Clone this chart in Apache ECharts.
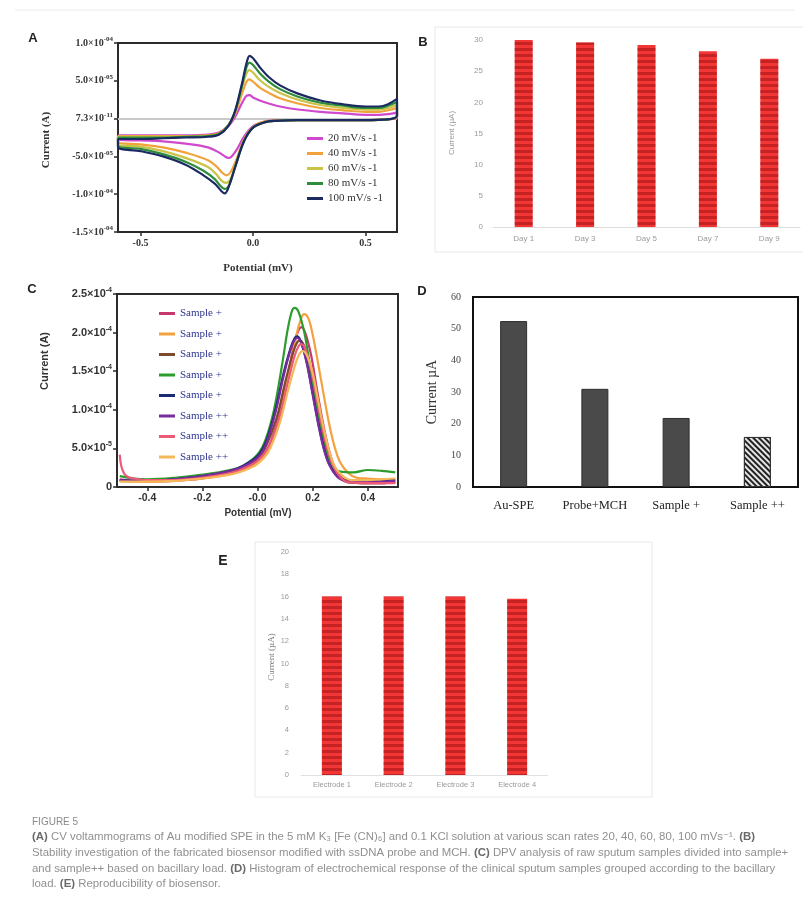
<!DOCTYPE html>
<html>
<head>
<meta charset="utf-8">
<script src="https://cdn.jsdelivr.net/npm/echarts@6/dist/echarts.min.js"></script>
<style>
  html, body { margin: 0; padding: 0; background: #ffffff; }
  #fig { width: 803px; height: 908px; }
</style>
</head>
<body>
<div id="fig"></div>
<script>
// ---------- Panel A: cyclic voltammograms (current in µA, potential in V) ----------
const cvPotentialTicks = [-0.5, 0, 0.5];
const cvPotentialLabels = ['-0.5', '0.0', '0.5'];
const cvCurrentTicks = [-150, -100, -50, 0, 50, 100];
const cvCurrentLabels = ['-1.5×10^-04', '-1.0×10^-04', '-5.0×10^-05', '7.3×10^-11', '5.0×10^-05', '1.0×10^-04'];
const cvRates = ['20 mV/s -1', '40 mV/s -1', '60 mV/s -1', '80 mV/s -1', '100 mV/s -1'];

const cv20 = [[-0.6,-22],[-0.5,-22],[-0.4,-22],[-0.3,-22],[-0.2,-21],[-0.15,-18],[-0.11,-10],[-0.08,2],[-0.05,20],[-0.03,30],[-0.015,31],[0.0,28],[0.03,24],[0.07,20],[0.12,16],[0.2,12],[0.3,9],[0.4,7],[0.5,5],[0.56,5],[0.6,6],[0.64,8],
  [0.64,1],[0.6,-1],[0.5,-2],[0.4,-2],[0.3,-2],[0.2,-2],[0.1,-2],[0.05,-4],[0.0,-10],[-0.04,-24],[-0.07,-40],[-0.095,-50],[-0.11,-52],[-0.125,-50],[-0.15,-45],[-0.2,-38],[-0.3,-33],[-0.4,-30],[-0.5,-29],[-0.6,-28],[-0.6,-22]];
const cv40 = [[-0.6,-23],[-0.5,-23],[-0.4,-23],[-0.3,-23],[-0.2,-22],[-0.15,-19],[-0.11,-9],[-0.08,6],[-0.05,32],[-0.03,48],[-0.017,52],[0.0,49],[0.03,41],[0.07,34],[0.12,27],[0.2,20],[0.3,14],[0.4,11],[0.5,9],[0.56,9],[0.6,11],[0.64,14],
  [0.64,2],[0.6,-1],[0.5,-2],[0.4,-2],[0.3,-2],[0.2,-2],[0.1,-3],[0.05,-4],[0.0,-11],[-0.04,-28],[-0.075,-55],[-0.1,-71],[-0.117,-75],[-0.135,-72],[-0.16,-64],[-0.2,-55],[-0.3,-45],[-0.4,-38],[-0.5,-34],[-0.6,-31],[-0.6,-23]];
const cv60 = [[-0.6,-24],[-0.5,-24],[-0.4,-24],[-0.3,-24],[-0.2,-23],[-0.15,-20],[-0.11,-9],[-0.08,8],[-0.05,40],[-0.03,59],[-0.017,64],[0.0,61],[0.03,51],[0.07,42],[0.12,34],[0.2,25],[0.3,18],[0.4,14],[0.5,12],[0.56,12],[0.6,14],[0.64,18],
  [0.64,3],[0.6,-1],[0.5,-2],[0.4,-2],[0.3,-2],[0.2,-2],[0.1,-3],[0.05,-5],[0.0,-12],[-0.04,-29],[-0.075,-60],[-0.1,-80],[-0.12,-85],[-0.14,-82],[-0.165,-73],[-0.2,-64],[-0.3,-52],[-0.4,-43],[-0.5,-37],[-0.6,-34],[-0.6,-24]];
const cv80 = [[-0.6,-25],[-0.5,-25],[-0.4,-25],[-0.3,-24],[-0.2,-23],[-0.15,-20],[-0.11,-9],[-0.08,9],[-0.05,42],[-0.03,67],[-0.016,74],[0.0,71],[0.03,60],[0.07,49],[0.12,39],[0.2,29],[0.3,21],[0.4,17],[0.5,14],[0.56,14],[0.6,17],[0.64,22],
  [0.64,3],[0.6,-1],[0.5,-2],[0.4,-2],[0.3,-2],[0.2,-2],[0.1,-3],[0.05,-5],[0.0,-12],[-0.04,-30],[-0.08,-64],[-0.105,-87],[-0.125,-93],[-0.145,-89],[-0.17,-80],[-0.22,-69],[-0.3,-57],[-0.4,-47],[-0.5,-40],[-0.6,-36],[-0.6,-25]];
const cv100 = [[-0.6,-27],[-0.5,-27],[-0.4,-26],[-0.3,-25],[-0.2,-24],[-0.15,-21],[-0.11,-10],[-0.08,10],[-0.05,45],[-0.03,72],[-0.015,83],[0.0,80],[0.03,68],[0.07,55],[0.12,44],[0.2,33],[0.3,24],[0.4,19],[0.5,16],[0.56,16],[0.6,19],[0.64,26],
  [0.64,4],[0.6,-1],[0.5,-2],[0.4,-2],[0.3,-2],[0.2,-2],[0.1,-3],[0.05,-5],[0.0,-12],[-0.04,-30],[-0.08,-65],[-0.11,-92],[-0.125,-99],[-0.14,-96],[-0.17,-86],[-0.22,-75],[-0.3,-61],[-0.4,-50],[-0.5,-43],[-0.6,-38],[-0.6,-27]];

// ---------- Panel B: stability ----------
const stabilityDays = ['Day 1', 'Day 3', 'Day 5', 'Day 7', 'Day 9'];
const stabilityCurrent = [30.0, 29.6, 29.2, 28.2, 27.0];

// ---------- Panel C: DPV of sputum samples (current in µA, potential in V) ----------
const dpvPotentialTicks = [-0.4, -0.2, 0, 0.2, 0.4];
const dpvPotentialLabels = ['-0.4', '-0.2', '-0.0', '0.2', '0.4'];
const dpvCurrentTicks = [0, 50, 100, 150, 200, 250];
const dpvCurrentLabels = ['0', '5.0×10^-5', '1.0×10^-4', '1.5×10^-4', '2.0×10^-4', '2.5×10^-4'];
const dpvNames = ['Sample +', 'Sample +', 'Sample +', 'Sample +', 'Sample +', 'Sample ++', 'Sample ++', 'Sample ++'];

const dpv1 = [[-0.5,10],[-0.45,8],[-0.4,7],[-0.3,8],[-0.2,11],[-0.1,18],[-0.05,24],[0.0,34],[0.04,52],[0.08,95],[0.11,145],[0.135,188],[0.15,204],[0.16,207],[0.175,198],[0.195,170],[0.215,128],[0.235,88],[0.255,54],[0.275,30],[0.3,14],[0.33,7],[0.4,5],[0.45,5],[0.5,6]];
const dpv2 = [[-0.5,8],[-0.45,7],[-0.4,7],[-0.3,8],[-0.2,11],[-0.1,17],[-0.05,22],[0.0,32],[0.04,50],[0.08,90],[0.11,140],[0.14,195],[0.16,220],[0.17,224],[0.185,218],[0.2,198],[0.22,160],[0.24,120],[0.26,82],[0.28,52],[0.3,32],[0.33,18],[0.36,12],[0.4,11],[0.45,10],[0.5,10]];
const dpv3 = [[-0.5,9],[-0.45,8],[-0.4,8],[-0.3,10],[-0.2,13],[-0.1,20],[-0.05,25],[0.0,36],[0.03,52],[0.07,90],[0.1,135],[0.13,175],[0.145,188],[0.155,190],[0.17,182],[0.19,158],[0.21,120],[0.23,82],[0.25,50],[0.27,28],[0.3,12],[0.33,6],[0.4,5],[0.45,5],[0.5,6]];
const dpv4 = [[-0.5,14],[-0.45,11],[-0.4,10],[-0.3,12],[-0.2,16],[-0.1,22],[-0.05,28],[0.0,42],[0.03,62],[0.06,100],[0.09,160],[0.11,205],[0.125,228],[0.135,232],[0.15,226],[0.17,200],[0.19,158],[0.21,112],[0.23,72],[0.25,44],[0.27,28],[0.3,20],[0.35,19],[0.4,22],[0.45,21],[0.5,19]];
const dpv5 = [[-0.5,9],[-0.45,8],[-0.4,8],[-0.3,10],[-0.2,14],[-0.1,21],[-0.05,28],[0.0,40],[0.03,58],[0.065,100],[0.095,148],[0.12,180],[0.135,193],[0.145,195],[0.16,186],[0.18,160],[0.2,122],[0.22,84],[0.24,52],[0.26,30],[0.29,14],[0.32,9],[0.4,9],[0.45,9],[0.5,9]];
const dpv6 = [[-0.5,9],[-0.45,8],[-0.4,8],[-0.3,10],[-0.2,14],[-0.1,21],[-0.05,27],[0.0,38],[0.03,55],[0.065,96],[0.095,144],[0.12,178],[0.135,191],[0.145,193],[0.16,185],[0.18,158],[0.2,120],[0.22,82],[0.24,50],[0.26,29],[0.29,13],[0.32,8],[0.4,7],[0.45,7],[0.5,8]];
const dpv7 = [[-0.5,42],[-0.495,28],[-0.485,18],[-0.47,13],[-0.45,11],[-0.4,9],[-0.3,9],[-0.2,12],[-0.1,18],[-0.05,24],[0.0,34],[0.04,52],[0.08,90],[0.11,135],[0.135,170],[0.15,183],[0.16,185],[0.175,177],[0.195,152],[0.215,115],[0.235,78],[0.255,48],[0.275,27],[0.3,13],[0.33,6],[0.4,5],[0.45,5],[0.5,5]];
const dpv8 = [[-0.5,7],[-0.45,7],[-0.4,7],[-0.3,8],[-0.2,11],[-0.1,16],[-0.05,21],[0.0,30],[0.04,46],[0.08,82],[0.11,124],[0.14,162],[0.155,174],[0.165,176],[0.18,170],[0.2,148],[0.22,112],[0.24,76],[0.26,47],[0.28,27],[0.31,14],[0.34,9],[0.4,9],[0.45,10],[0.5,11]];

// ---------- Panel D: response by bacillary load ----------
const loadGroups = ['Au-SPE', 'Probe+MCH', 'Sample +', 'Sample ++'];
const loadCurrent = [52.4, 31.0, 21.8, 15.8];

// ---------- Panel E: reproducibility ----------
const electrodes = ['Electrode 1', 'Electrode 2', 'Electrode 3', 'Electrode 4'];
const electrodeCurrent = [16.0, 16.0, 16.0, 15.8];

// ---------- styling ----------
const cvColors = ['#d048cc', '#f2a23a', '#c9c447', '#2f8c3a', '#1b2b62'];
const dpvColors = ['#c8386e', '#f2a23e', '#7c4a2c', '#2c9c2c', '#1c2a74', '#7a2c9e', '#ec5a78', '#f4b85a'];
const SERIF = '"Liberation Serif", "DejaVu Serif", serif';
const SANS = '"Liberation Sans", "DejaVu Sans", sans-serif';

function pick(ticks, labels, v) {
  const i = ticks.findIndex(t => Math.abs(t - v) < 1e-9);
  return i < 0 ? '' : labels[i];
}
function sci(s) {
  const parts = s.split('^');
  return parts.length === 1 ? '{m|' + parts[0] + '}' : '{m|' + parts[0] + '}{s|' + parts[1] + '}';
}
function sciRich(size, family, weight) {
  return {
    m: { fontSize: size, fontFamily: family, fontWeight: weight, color: '#333', lineHeight: size + 4 },
    s: { fontSize: Math.round(size * 0.65), fontFamily: family, fontWeight: weight, color: '#333', verticalAlign: 'top', lineHeight: size + 4 }
  };
}

const cvData = [cv20, cv40, cv60, cv80, cv100];
const dpvData = [dpv1, dpv2, dpv3, dpv4, dpv5, dpv6, dpv7, dpv8];
// Legend entries of panel C share text; trailing spaces keep the series distinct.
const dpvKeys = dpvNames.map((n, i) => n + ' '.repeat(i));

const series = [];
cvData.forEach((d, i) => {
  const s = {
    name: cvRates[i], type: 'line', xAxisIndex: 0, yAxisIndex: 0, data: d,
    showSymbol: false, smooth: 0.35, color: cvColors[i],
    lineStyle: { width: 2.2, color: cvColors[i] }, z: 3 + i
  };
  if (i === 0) {
    s.markLine = {
      silent: true, symbol: ['none', 'none'], label: { show: false }, z: 1,
      lineStyle: { color: '#c9c9c9', width: 2, type: 'solid' }, data: [{ yAxis: 0 }]
    };
  }
  series.push(s);
});
series.push({
  type: 'bar', xAxisIndex: 1, yAxisIndex: 1, data: stabilityCurrent, barWidth: 18,
  itemStyle: { color: '#f23636', decal: { symbol: 'rect', symbolSize: 1, dashArrayX: [1, 0], dashArrayY: [3, 3], rotation: 0, color: 'rgba(160,20,20,0.55)' } }
});
dpvData.forEach((d, i) => {
  series.push({
    name: dpvKeys[i], type: 'line', xAxisIndex: 2, yAxisIndex: 2, data: d,
    showSymbol: false, smooth: 0.35, color: dpvColors[i],
    lineStyle: { width: 2.2, color: dpvColors[i] }
  });
});
series.push({
  type: 'bar', xAxisIndex: 3, yAxisIndex: 3, barWidth: 27,
  data: loadCurrent.map((v, i) => i === loadCurrent.length - 1
    ? { value: v, itemStyle: { color: '#e6e6e6', borderColor: '#333', borderWidth: 1,
        decal: { symbol: 'rect', symbolSize: 1, dashArrayX: [1, 0], dashArrayY: [1.5, 2], rotation: Math.PI / 4, color: '#222' } } }
    : v),
  itemStyle: { color: '#4a4a4a', borderColor: '#2e2e2e', borderWidth: 1 }
});
series.push({
  type: 'bar', xAxisIndex: 4, yAxisIndex: 4, data: electrodeCurrent, barWidth: 20,
  itemStyle: { color: '#f23636', decal: { symbol: 'rect', symbolSize: 1, dashArrayX: [1, 0], dashArrayY: [3, 3], rotation: 0, color: 'rgba(160,20,20,0.55)' } }
});

const grayLabel = { color: '#9a9a9a', fontSize: 8, fontFamily: SANS };
const capFont = '11.4px ' + SANS;
const capRich = { b: { font: 'bold 11.4px ' + SANS, fill: '#6a6a6a' } };

const option = {
  animation: false,
  backgroundColor: '#ffffff',
  grid: [
    { left: 118, top: 43, width: 279, height: 189, show: true, borderColor: '#2b2b2b', borderWidth: 2, backgroundColor: 'transparent' },
    { left: 493, top: 40, width: 307, height: 187 },
    { left: 117, top: 294, width: 281, height: 193, show: true, borderColor: '#2b2b2b', borderWidth: 2, backgroundColor: 'transparent' },
    { left: 473, top: 297, width: 325, height: 190, show: true, borderColor: '#111', borderWidth: 2, backgroundColor: 'transparent' },
    { left: 301, top: 552, width: 247, height: 223 }
  ],
  xAxis: [
    { gridIndex: 0, type: 'value', min: -0.6, max: 0.64,
      axisLine: { show: true, onZero: false, lineStyle: { color: '#2b2b2b', width: 2 } },
      axisTick: { show: true, customValues: cvPotentialTicks, length: 4, lineStyle: { color: '#2b2b2b', width: 1.5 } },
      axisLabel: { customValues: cvPotentialTicks, formatter: v => pick(cvPotentialTicks, cvPotentialLabels, v), color: '#333', fontSize: 10, fontFamily: SERIF, fontWeight: 'bold', margin: 6 },
      splitLine: { show: false } },
    { gridIndex: 1, type: 'category', data: stabilityDays,
      axisLine: { show: true, lineStyle: { color: '#dedede' } }, axisTick: { show: false },
      axisLabel: Object.assign({ margin: 8 }, grayLabel) },
    { gridIndex: 2, type: 'value', min: -0.51, max: 0.51,
      axisLine: { show: true, onZero: false, lineStyle: { color: '#2b2b2b', width: 2 } },
      axisTick: { show: true, customValues: dpvPotentialTicks, length: 4, lineStyle: { color: '#2b2b2b', width: 1.5 } },
      axisLabel: { customValues: dpvPotentialTicks, formatter: v => pick(dpvPotentialTicks, dpvPotentialLabels, v), color: '#333', fontSize: 10.5, fontFamily: SANS, fontWeight: 'bold', margin: 6 },
      splitLine: { show: false } },
    { gridIndex: 3, type: 'category', data: loadGroups,
      axisLine: { show: true, lineStyle: { color: '#111', width: 2 } }, axisTick: { show: false },
      axisLabel: { interval: 0, color: '#222', fontSize: 12.5, fontFamily: SERIF, margin: 12 } },
    { gridIndex: 4, type: 'category', data: electrodes,
      axisLine: { show: true, lineStyle: { color: '#e2e2e2' } }, axisTick: { show: false },
      axisLabel: Object.assign({ margin: 6, interval: 0 }, grayLabel, { fontSize: 7.5 }) }
  ],
  yAxis: [
    { gridIndex: 0, type: 'value', min: -150, max: 100, interval: 50,
      axisLine: { show: true, onZero: false, lineStyle: { color: '#2b2b2b', width: 2 } },
      axisTick: { show: true, length: 4, lineStyle: { color: '#2b2b2b', width: 1.5 } },
      axisLabel: { formatter: v => sci(pick(cvCurrentTicks, cvCurrentLabels, v)), rich: sciRich(10, SERIF, 'bold'), margin: 5 },
      splitLine: { show: false } },
    { gridIndex: 1, type: 'value', min: 0, max: 30, interval: 5,
      axisLine: { show: false }, axisTick: { show: false },
      axisLabel: Object.assign({ margin: 10 }, grayLabel), splitLine: { show: false } },
    { gridIndex: 2, type: 'value', min: 0, max: 250, interval: 50,
      axisLine: { show: true, onZero: false, lineStyle: { color: '#2b2b2b', width: 2 } },
      axisTick: { show: true, length: 4, lineStyle: { color: '#2b2b2b', width: 1.5 } },
      axisLabel: { formatter: v => sci(pick(dpvCurrentTicks, dpvCurrentLabels, v)), rich: sciRich(11, SANS, 'bold'), margin: 5 },
      splitLine: { show: false } },
    { gridIndex: 3, type: 'value', min: 0, max: 60, interval: 10,
      axisLine: { show: true, onZero: false, lineStyle: { color: '#111', width: 2 } },
      axisTick: { show: false },
      axisLabel: { color: '#444', fontSize: 10, fontFamily: SERIF, margin: 12 },
      splitLine: { show: false } },
    { gridIndex: 4, type: 'value', min: 0, max: 20, interval: 2,
      axisLine: { show: false }, axisTick: { show: false },
      axisLabel: Object.assign({ margin: 12 }, grayLabel, { fontSize: 7.5 }), splitLine: { show: false } }
  ],
  legend: [
    { data: cvRates, orient: 'vertical', left: 302, top: 128, itemGap: 4, itemWidth: 16, itemHeight: 3, icon: 'rect',
      textStyle: { fontFamily: SERIF, fontSize: 11, color: '#333' } },
    { data: dpvKeys, orient: 'vertical', left: 154, top: 303, itemGap: 9.5, itemWidth: 16, itemHeight: 3, icon: 'rect',
      formatter: n => n.trim(),
      textStyle: { fontFamily: SERIF, fontSize: 11, color: '#2f3590' } }
  ],
  series: series,
  graphic: [
    // panel frames
    { type: 'rect', shape: { x: 435, y: 27, width: 380, height: 225 }, style: { fill: 'none', stroke: '#e8e8e8', lineWidth: 1 }, silent: true },
    { type: 'rect', shape: { x: 255, y: 542, width: 397, height: 255 }, style: { fill: 'none', stroke: '#e8e8e8', lineWidth: 1 }, silent: true },
    { type: 'line', shape: { x1: 15, y1: 10, x2: 795, y2: 10 }, style: { stroke: '#ececec', lineWidth: 1 }, silent: true },
    // panel letters
    { type: 'text', x: 33, y: 38, style: { text: 'A', font: 'bold 13px ' + SANS, fill: '#222', align: 'center', verticalAlign: 'middle' } },
    { type: 'text', x: 423, y: 42, style: { text: 'B', font: 'bold 13px ' + SANS, fill: '#222', align: 'center', verticalAlign: 'middle' } },
    { type: 'text', x: 32, y: 289, style: { text: 'C', font: 'bold 13px ' + SANS, fill: '#222', align: 'center', verticalAlign: 'middle' } },
    { type: 'text', x: 422, y: 291, style: { text: 'D', font: 'bold 13px ' + SANS, fill: '#222', align: 'center', verticalAlign: 'middle' } },
    { type: 'text', x: 223, y: 561, style: { text: 'E', font: 'bold 14px ' + SANS, fill: '#222', align: 'center', verticalAlign: 'middle' } },
    // axis titles
    { type: 'text', x: 46, y: 140, rotation: Math.PI / 2, style: { text: 'Current (A)', font: 'bold 11px ' + SERIF, fill: '#333', align: 'center', verticalAlign: 'middle' } },
    { type: 'text', x: 258, y: 268, style: { text: 'Potential (mV)', font: 'bold 11px ' + SERIF, fill: '#333', align: 'center', verticalAlign: 'middle' } },
    { type: 'text', x: 452, y: 133, rotation: Math.PI / 2, style: { text: 'Current (µA)', font: '8px ' + SANS, fill: '#9a9a9a', align: 'center', verticalAlign: 'middle' } },
    { type: 'text', x: 45, y: 361, rotation: Math.PI / 2, style: { text: 'Current (A)', font: 'bold 11px ' + SANS, fill: '#333', align: 'center', verticalAlign: 'middle' } },
    { type: 'text', x: 258, y: 513, style: { text: 'Potential (mV)', font: 'bold 10px ' + SANS, fill: '#333', align: 'center', verticalAlign: 'middle' } },
    { type: 'text', x: 432, y: 392, rotation: Math.PI / 2, style: { text: 'Current µA', font: '14px ' + SERIF, fill: '#333', align: 'center', verticalAlign: 'middle' } },
    { type: 'text', x: 272, y: 657, rotation: Math.PI / 2, style: { text: 'Current (µA)', font: '9px ' + SERIF, fill: '#777', align: 'center', verticalAlign: 'middle' } },
    // caption
    { type: 'text', x: 32, y: 822, style: { text: 'FIGURE 5', font: '10px ' + SANS, fill: '#8a8a8a', verticalAlign: 'middle' } },
    { type: 'text', x: 32, y: 837, style: { text: '{b|(A)} CV voltammograms of Au modified SPE in the 5 mM K₃ [Fe (CN)₆] and 0.1 KCl solution at various scan rates 20, 40, 60, 80, 100 mVs⁻¹. {b|(B)}', font: capFont, fill: '#909090', verticalAlign: 'middle', rich: capRich } },
    { type: 'text', x: 32, y: 853, style: { text: 'Stability investigation of the fabricated biosensor modified with ssDNA probe and MCH. {b|(C)} DPV analysis of raw sputum samples divided into sample+', font: capFont, fill: '#909090', verticalAlign: 'middle', rich: capRich } },
    { type: 'text', x: 32, y: 869, style: { text: 'and sample++ based on bacillary load. {b|(D)} Histogram of electrochemical response of the clinical sputum samples grouped according to the bacillary', font: capFont, fill: '#909090', verticalAlign: 'middle', rich: capRich } },
    { type: 'text', x: 32, y: 884, style: { text: 'load. {b|(E)} Reproducibility of biosensor.', font: capFont, fill: '#909090', verticalAlign: 'middle', rich: capRich } }
  ]
};

const chart = echarts.init(document.getElementById('fig'), null, { renderer: 'canvas', width: 803, height: 908 });
chart.setOption(option);
</script>
</body>
</html>
